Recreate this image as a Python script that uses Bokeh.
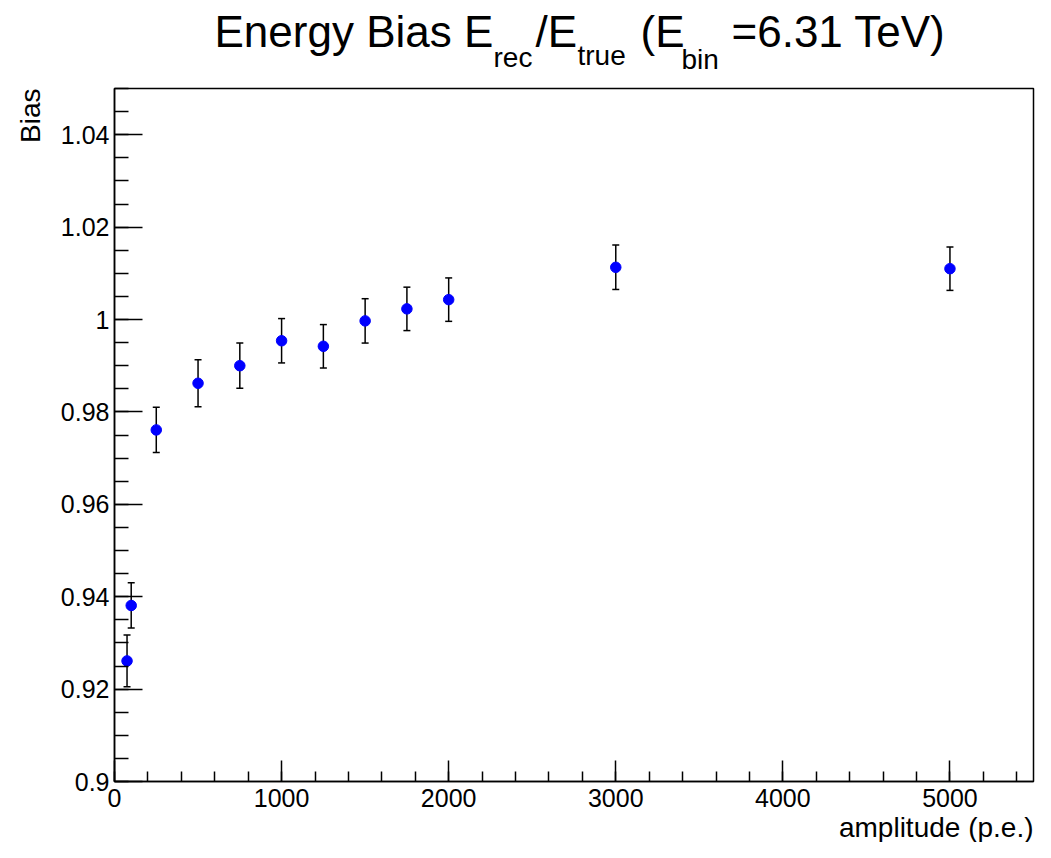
from bokeh.plotting import figure
from bokeh.layouts import column
from bokeh.models import (ColumnDataSource, Whisker, TeeHead, Title,
                          SingleIntervalTicker, CustomJSTickFormatter, Range1d)
from bokeh.core.properties import value
from bokeh.embed import file_html
from bokeh.resources import INLINE

# ---- data ----
amplitude = [75, 100, 250, 500, 750, 1000, 1250, 1500, 1750, 2000, 3000, 5000]
bias = [0.9261, 0.9381, 0.9761, 0.9862, 0.9900, 0.9954, 0.9942, 0.9997,
        1.0023, 1.0043, 1.0113, 1.0110]
bias_err = [0.0056, 0.0049, 0.0049, 0.0051, 0.0049, 0.0048, 0.0047, 0.0048,
            0.0047, 0.0047, 0.0048, 0.0047]

title_main = ["Energy Bias E", "/E", "(E", "=6.31 TeV)"]
title_sub = ["rec", "true", "bin"]
x_label = "amplitude (p.e.)"
y_label = "Bias"

FONT = "Liberation Sans"
W = 1035
TITLE_H = 86
MAIN_H = 842 - TITLE_H
FRAME_L = 114
FRAME_R = 2

# ---- title strip (text pieces with subscripts); its frame spans the same
# columns as the main frame, and its x range is given in canvas pixels ----
t = figure(width=W, height=TITLE_H, output_backend="svg", toolbar_location=None,
           title=None,
           x_range=Range1d(FRAME_L, W - FRAME_R), y_range=Range1d(TITLE_H, 0),
           x_axis_location=None, y_axis_location=None,
           min_border_left=FRAME_L, min_border_right=FRAME_R,
           min_border_top=0, min_border_bottom=0)
t.xgrid.visible = False
t.ygrid.visible = False
t.outline_line_color = None
t.background_fill_color = "white"
t.border_fill_color = "white"
# baselines: main 46 px, subscripts ~65-69 px (middle-anchored below)
t.text(x=[214, 535, 640, 731], y=[30.7, 30.7, 30.7, 30.7], text=title_main,
       text_font=value(FONT), text_font_size=value("44px"),
       text_color="black", text_baseline=value("middle"),
       text_align=value("left"))
t.text(x=[493, 577, 681], y=[57.3, 55.3, 59.3], text=title_sub,
       text_font=value(FONT), text_font_size=value("28px"),
       text_color="black", text_baseline=value("middle"),
       text_align=value("left"))

# ---- main plot ----
src = ColumnDataSource(dict(
    x=amplitude, y=bias,
    lo=[b - e for b, e in zip(bias, bias_err)],
    hi=[b + e for b, e in zip(bias, bias_err)],
))

p = figure(width=W, height=MAIN_H, output_backend="svg", toolbar_location=None,
           title=None,
           x_range=Range1d(0, 5500), y_range=Range1d(0.9, 1.05),
           min_border_left=FRAME_L, min_border_right=FRAME_R,
           min_border_top=2, min_border_bottom=60)
p.xgrid.visible = False
p.ygrid.visible = False
p.background_fill_color = "white"
p.border_fill_color = "white"
p.outline_line_color = "black"
p.outline_line_width = 1.5

xa = p.xaxis[0]
xa.ticker = SingleIntervalTicker(interval=1000, num_minor_ticks=5)
xa.major_tick_in = 21
xa.major_tick_out = 0
xa.minor_tick_in = 10
xa.minor_tick_out = 0
xa.major_tick_line_color = "black"
xa.minor_tick_line_color = "black"
xa.major_tick_line_width = 1.5
xa.minor_tick_line_width = 1.5
xa.axis_line_color = "black"
xa.axis_line_width = 1.5
xa.major_label_text_font = FONT
xa.major_label_text_font_size = "25px"
xa.major_label_text_color = "black"
xa.major_label_standoff = 7

ya = p.yaxis[0]
ya.ticker = SingleIntervalTicker(interval=0.02, num_minor_ticks=4)
ya.formatter = CustomJSTickFormatter(code="return String(parseFloat(tick.toFixed(4)));")
ya.major_tick_in = 28
ya.major_tick_out = 0
ya.minor_tick_in = 14
ya.minor_tick_out = 0
ya.major_tick_line_color = "black"
ya.minor_tick_line_color = "black"
ya.major_tick_line_width = 1.5
ya.minor_tick_line_width = 1.5
ya.axis_line_color = "black"
ya.axis_line_width = 1.5
ya.major_label_text_font = FONT
ya.major_label_text_font_size = "25px"
ya.major_label_text_color = "black"
ya.major_label_standoff = 5

# axis titles, right-aligned at the axis ends (ROOT style)
p.add_layout(Title(text=x_label, align="right", standoff=0,
                   text_font=FONT, text_font_size="28px",
                   text_font_style="normal", text_color="black"), "below")
p.add_layout(Title(text=y_label, align="right", standoff=20,
                   vertical_align="top",
                   text_font=FONT, text_font_size="28px",
                   text_font_style="normal", text_color="black"), "left")

# error bars
w = Whisker(source=src, base="x", lower="lo", upper="hi", dimension="height",
            line_color="black", line_width=1.5,
            upper_head=TeeHead(size=7, line_color="black", line_width=1.5),
            lower_head=TeeHead(size=7, line_color="black", line_width=1.5))
p.add_layout(w)

p.scatter("x", "y", source=src, size=10.5, marker="circle",
          fill_color="#0000ff", line_color="#0000ff")

layout = column(t, p, spacing=0)
open("out.html", "w").write(file_html(layout, INLINE))
